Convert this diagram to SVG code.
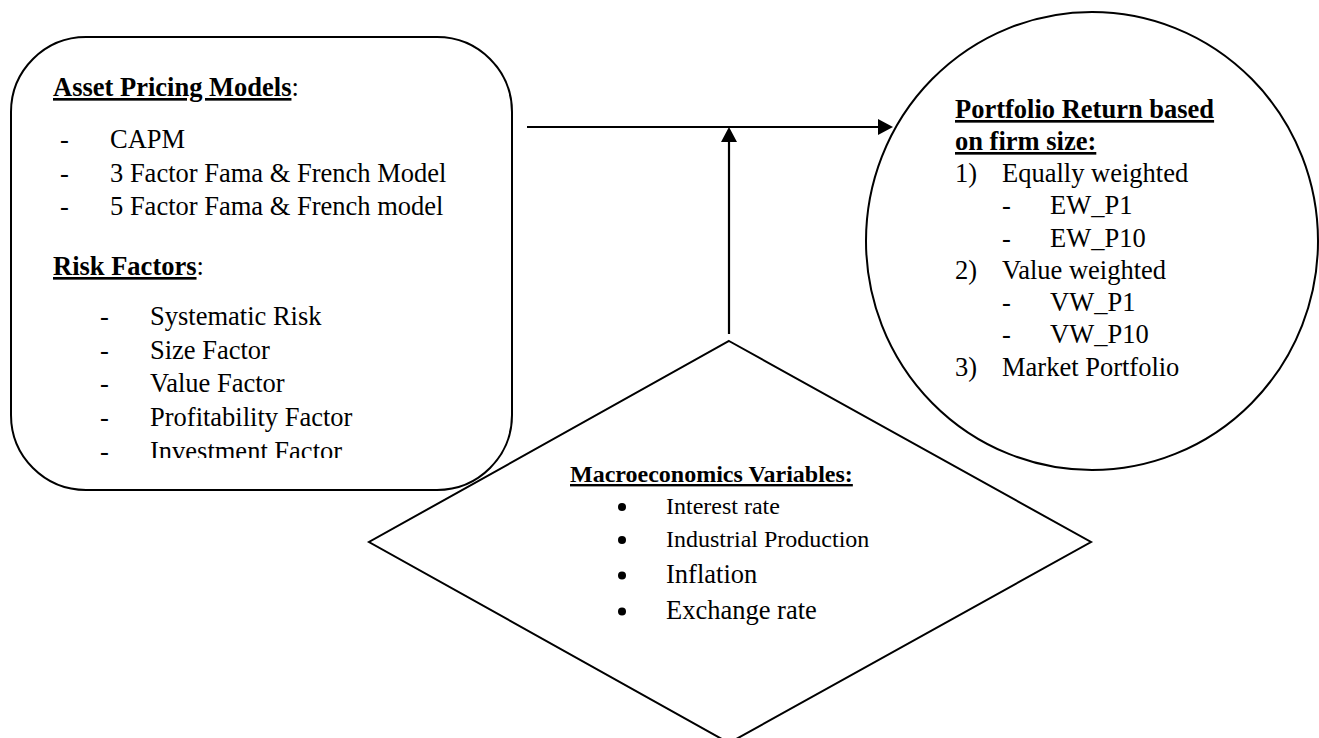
<svg xmlns="http://www.w3.org/2000/svg" width="1319" height="738" viewBox="0 0 1319 738">
  <defs>
    <style>
      .shape { fill: none; stroke: #000; stroke-width: 2; }
      .conn { fill: none; stroke: #000; stroke-width: 2.2; }
      text { font-family: "Liberation Serif", "Times New Roman", serif; fill: #000; }
      .t { font-size: 26.5px; }
      .s { font-size: 24px; }
      .b { font-weight: bold; }
      .u { text-decoration: underline; }
    </style>
    <marker id="arrow" markerWidth="8" markerHeight="8" refX="7.5" refY="4" orient="auto" markerUnits="userSpaceOnUse" viewBox="0 0 8 8">
      <path d="M0,0 L8,4 L0,8 Z" fill="#000"/>
    </marker>
    <clipPath id="clipLeft">
      <rect x="11" y="37" width="501" height="421"/>
    </clipPath>
  </defs>
  <rect width="1319" height="738" fill="#fff"/>

  <g id="connectors">
    <line class="conn" x1="527" y1="127" x2="879" y2="127"/>
    <path d="M878,119 L893,127 L878,135 Z" fill="#000"/>
    <line class="conn" x1="729" y1="334" x2="729" y2="141"/>
    <path d="M721,142 L729,127 L737,142 Z" fill="#000"/>
  </g>

  <g id="node-models">
    <rect class="shape" x="11" y="37" width="501" height="453" rx="75" ry="75"/>
    <text class="t" x="53" y="96"><tspan class="b u">Asset Pricing Models</tspan>:</text>
    <text class="t" x="60" y="148">-</text>
    <text class="t" x="110" y="148">CAPM</text>
    <text class="t" x="60" y="182">-</text>
    <text class="t" x="110" y="182">3 Factor Fama &amp; French Model</text>
    <text class="t" x="60" y="215">-</text>
    <text class="t" x="110" y="215">5 Factor Fama &amp; French model</text>
    <text class="t" x="53" y="275"><tspan class="b u">Risk Factors</tspan>:</text>
    <g clip-path="url(#clipLeft)">
      <text class="t" x="100" y="325">-</text>
      <text class="t" x="150" y="325">Systematic Risk</text>
      <text class="t" x="100" y="359">-</text>
      <text class="t" x="150" y="359">Size Factor</text>
      <text class="t" x="100" y="392">-</text>
      <text class="t" x="150" y="392">Value Factor</text>
      <text class="t" x="100" y="426">-</text>
      <text class="t" x="150" y="426">Profitability Factor</text>
      <text class="t" x="100" y="460">-</text>
      <text class="t" x="150" y="460">Investment Factor</text>
    </g>
  </g>

  <g id="node-portfolio">
    <ellipse class="shape" cx="1092" cy="241" rx="226" ry="229"/>
    <text class="t b u" x="955" y="118">Portfolio Return based</text>
    <text class="t b u" x="955" y="150">on firm size:</text>
    <text class="t" x="955" y="182">1)</text>
    <text class="t" x="1002" y="182">Equally weighted</text>
    <text class="t" x="1002" y="214">-</text>
    <text class="t" x="1050" y="214">EW_P1</text>
    <text class="t" x="1002" y="247">-</text>
    <text class="t" x="1050" y="247">EW_P10</text>
    <text class="t" x="955" y="279">2)</text>
    <text class="t" x="1002" y="279">Value weighted</text>
    <text class="t" x="1002" y="311">-</text>
    <text class="t" x="1050" y="311">VW_P1</text>
    <text class="t" x="1002" y="343">-</text>
    <text class="t" x="1050" y="343">VW_P10</text>
    <text class="t" x="955" y="376">3)</text>
    <text class="t" x="1002" y="376">Market Portfolio</text>
  </g>

  <g id="node-macro">
    <polygon class="shape" points="729,341 1091,542 729,743 369,542"/>
    <text class="s b u" x="570" y="482">Macroeconomics Variables:</text>
    <circle cx="622" cy="507" r="4"/>
    <text class="s" x="666" y="514">Interest rate</text>
    <circle cx="622" cy="540" r="4"/>
    <text class="s" x="666" y="547">Industrial Production</text>
    <circle cx="622" cy="575.5" r="4"/>
    <text class="t" x="666" y="583">Inflation</text>
    <circle cx="622" cy="611.5" r="4"/>
    <text class="t" x="666" y="619">Exchange rate</text>
  </g>
</svg>
